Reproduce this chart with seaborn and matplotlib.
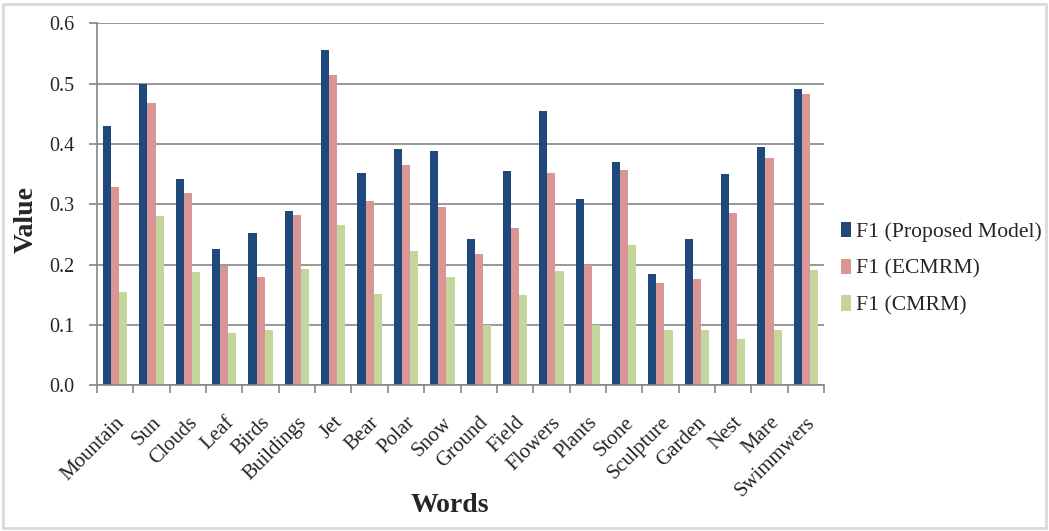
import matplotlib
matplotlib.use("Agg")
import matplotlib.pyplot as plt
import seaborn as sns
import pandas as pd
from matplotlib.patches import Rectangle
from matplotlib.ticker import FormatStrFormatter, FixedLocator

words = ["Mountain", "Sun", "Clouds", "Leaf", "Birds", "Buildings", "Jet", "Bear",
         "Polar", "Snow", "Ground", "Field", "Flowers", "Plants", "Stone",
         "Sculpture", "Garden", "Nest", "Mare", "Swimmwers"]
proposed = [0.430, 0.500, 0.342, 0.226, 0.252, 0.289, 0.556, 0.352, 0.392, 0.388,
            0.243, 0.355, 0.455, 0.309, 0.370, 0.184, 0.243, 0.350, 0.395, 0.491]
ecmrm = [0.329, 0.468, 0.319, 0.198, 0.180, 0.282, 0.514, 0.305, 0.365, 0.296,
         0.218, 0.261, 0.352, 0.199, 0.357, 0.170, 0.176, 0.286, 0.377, 0.483]
cmrm = [0.155, 0.281, 0.188, 0.087, 0.092, 0.193, 0.266, 0.151, 0.223, 0.180,
        0.100, 0.150, 0.189, 0.100, 0.233, 0.092, 0.092, 0.077, 0.092, 0.191]
series = ["F1 (Proposed Model)", "F1 (ECMRM)", "F1 (CMRM)"]
colors = ["#1F497D", "#D99694", "#C3D69B"]

df = pd.DataFrame({
    "Words": words * 3,
    "Value": proposed + ecmrm + cmrm,
    "Series": [series[0]] * len(words) + [series[1]] * len(words) + [series[2]] * len(words),
})

sns.set_theme(style="white")
plt.rcParams["font.family"] = ["Liberation Serif", "DejaVu Serif"]

fig = plt.figure(figsize=(10.49, 5.31), dpi=100)
ax = fig.add_axes([0.0925, 0.2744, 0.6930, 0.6817])

sns.barplot(data=df, x="Words", y="Value", hue="Series", palette=colors,
            width=0.67, ax=ax, saturation=1, edgecolor="none", linewidth=0, gap=0)

ax.set_ylim(0, 0.6)
ax.set_xlim(-0.5, len(words) - 0.5)
ax.set_yticks([0, 0.1, 0.2, 0.3, 0.4, 0.5, 0.6])
ax.yaxis.set_major_formatter(FormatStrFormatter("%.1f"))
ax.yaxis.grid(True, color="#868686", linewidth=1.2)
ax.set_axisbelow(True)
for s in ["top", "right"]:
    ax.spines[s].set_visible(False)
for s in ["left", "bottom"]:
    ax.spines[s].set_color("#868686")
    ax.spines[s].set_linewidth(1.2)

ax.set_xticks(range(len(words)))
ax.set_xticklabels(words, rotation=45, ha="right", rotation_mode="anchor", fontsize=15)
ax.tick_params(axis="x", length=0, pad=20)
ax.xaxis.set_minor_locator(FixedLocator([i - 0.5 for i in range(len(words) + 1)]))
ax.tick_params(axis="x", which="minor", length=6, color="#868686", width=1.2, direction="out", bottom=True)
ax.tick_params(axis="y", length=6, color="#868686", width=1.2, direction="out", labelsize=14.5, left=True, pad=10)

ax.set_xlabel("Words", fontsize=20, fontweight="bold")
ax.set_ylabel("Value", fontsize=20, fontweight="bold")
ax.xaxis.set_label_coords(0.486, -0.2975)
ax.yaxis.set_label_coords(-0.080, 0.457)

leg = ax.legend(loc="center left", bbox_to_anchor=(1.012, 0.322), frameon=False,
                fontsize=15.6, handlelength=0.46, handleheight=0.72, handletextpad=0.2,
                labelspacing=0.75, borderaxespad=0)

fig.patches.append(Rectangle((0.003, 0.006), 0.994, 0.986, transform=fig.transFigure,
                             fill=False, edgecolor="#D9D9D9", linewidth=2))

fig.savefig("out.png", dpi=100)
